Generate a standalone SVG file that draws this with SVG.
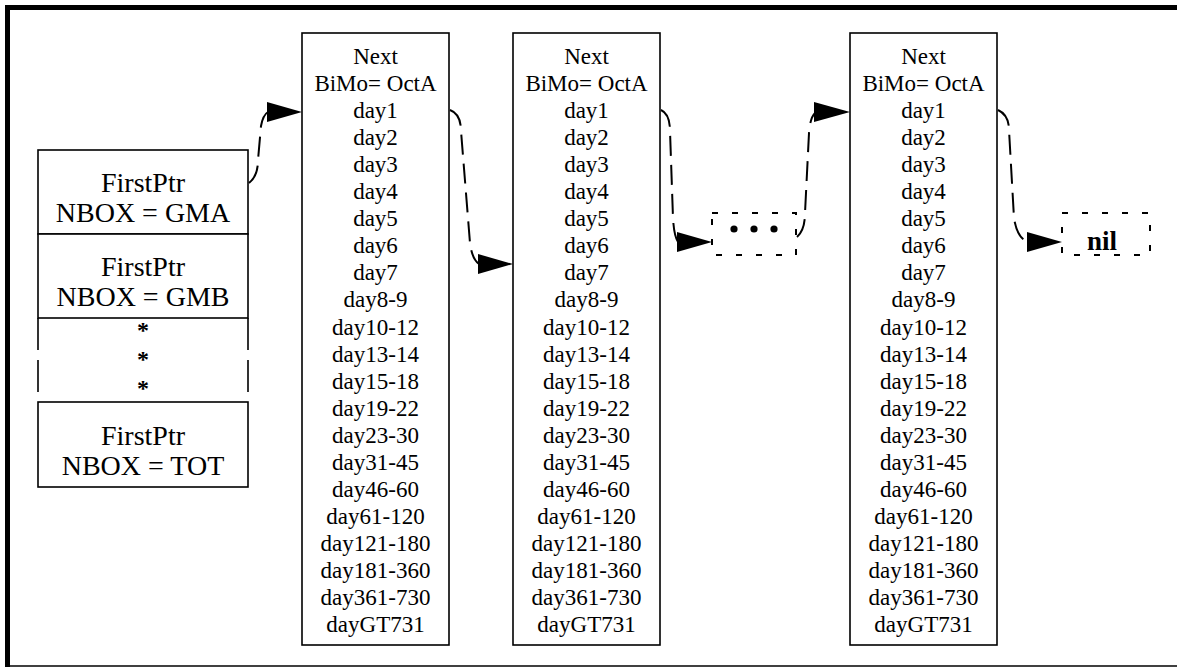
<svg xmlns="http://www.w3.org/2000/svg" width="1177" height="668" viewBox="0 0 1177 668">
<style>
.box{fill:#fff;stroke:#000;stroke-width:1.6}
.t{font-family:"Liberation Serif","Times New Roman",serif;font-size:23px;fill:#000;text-anchor:middle}
.tl{font-family:"Liberation Serif","Times New Roman",serif;font-size:28px;fill:#000;text-anchor:middle}
.ast{font-family:"Liberation Serif","Times New Roman",serif;font-size:24px;font-weight:bold;fill:#000;text-anchor:middle}
.conn{fill:none;stroke:#000;stroke-width:2;stroke-dasharray:20 9}
.head{fill:#000;stroke:none}
.dot{fill:none;stroke:#000;stroke-width:2;stroke-dasharray:6 14}
.side{stroke:#000;stroke-width:1.6;stroke-dasharray:32 10}
</style>
<defs>
<g id="fields">
<text x="0" y="64">Next</text>
<text x="0" y="91">BiMo= OctA</text>
<text x="0" y="118">day1</text>
<text x="0" y="145">day2</text>
<text x="0" y="172">day3</text>
<text x="0" y="199">day4</text>
<text x="0" y="226">day5</text>
<text x="0" y="253">day6</text>
<text x="0" y="280">day7</text>
<text x="0" y="307">day8-9</text>
<text x="0" y="335">day10-12</text>
<text x="0" y="362">day13-14</text>
<text x="0" y="389">day15-18</text>
<text x="0" y="416">day19-22</text>
<text x="0" y="443">day23-30</text>
<text x="0" y="470">day31-45</text>
<text x="0" y="497">day46-60</text>
<text x="0" y="524">day61-120</text>
<text x="0" y="551">day121-180</text>
<text x="0" y="578">day181-360</text>
<text x="0" y="605">day361-730</text>
<text x="0" y="632">dayGT731</text>
</g>
</defs>
<rect width="1177" height="668" fill="#fff"/>
<g id="frame">
<rect x="5" y="5" width="1172" height="5" fill="#000"/>
<rect x="5" y="5" width="5" height="662" fill="#000"/>
<line x1="5" y1="666" x2="1177" y2="666" stroke="#000" stroke-width="1.5"/>
</g>
<g id="nbox-gma">
<rect class="box" x="38" y="150" width="210" height="84"/>
<text class="tl" x="143" y="192">FirstPtr</text>
<text class="tl" x="143" y="222">NBOX = GMA</text>
</g>
<g id="nbox-gmb">
<rect class="box" x="38" y="234" width="210" height="84"/>
<text class="tl" x="143" y="276">FirstPtr</text>
<text class="tl" x="143" y="306">NBOX = GMB</text>
</g>
<g id="nbox-more">
<line class="side" x1="38" y1="318" x2="38" y2="402"/>
<line class="side" x1="248" y1="318" x2="248" y2="402"/>
<text class="ast" x="143" y="338">*</text>
<text class="ast" x="143" y="367">*</text>
<text class="ast" x="143" y="396">*</text>
</g>
<g id="nbox-tot">
<rect class="box" x="38" y="402" width="210" height="85"/>
<text class="tl" x="143" y="445">FirstPtr</text>
<text class="tl" x="143" y="475">NBOX = TOT</text>
</g>
<g id="node-a">
<rect class="box" x="302" y="33" width="147" height="612"/>
<g class="t" transform="translate(375.5,0)"><use href="#fields"/></g>
</g>
<g id="node-b">
<rect class="box" x="513" y="33" width="147" height="612"/>
<g class="t" transform="translate(586.5,0)"><use href="#fields"/></g>
</g>
<g id="node-c">
<rect class="box" x="850" y="33" width="147" height="612"/>
<g class="t" transform="translate(923.5,0)"><use href="#fields"/></g>
</g>
<g id="ellipsis">
<rect class="dot" x="712" y="213" width="84" height="42"/>
<circle cx="734" cy="229" r="3.6" fill="#000"/>
<circle cx="754" cy="229" r="3.6" fill="#000"/>
<circle cx="774" cy="229" r="3.6" fill="#000"/>
</g>
<g id="nil">
<rect class="dot" x="1062" y="213" width="88" height="42"/>
<text x="1102" y="250" font-family="Liberation Serif, serif" font-size="27" font-weight="bold" text-anchor="middle">nil</text>
</g>
<g id="connectors">
<path class="conn" d="M249,183 Q258,176 258,160 L261,126 Q263,115 268,112"/>
<polygon class="head" points="267,102 302,112 267,122"/>
<path class="conn" d="M450,110 Q461,114 461,131 L470,243 Q472,259 479,264"/>
<polygon class="head" points="478,254 513,264 478,274"/>
<path class="conn" d="M661,110 Q670,114 670,131 L673,218 Q674,236 678,242"/>
<polygon class="head" points="677,232 712,242 677,252"/>
<path class="conn" d="M797,237 Q805,230 805,213 L809,133 Q810,118 815,113"/>
<polygon class="head" points="814,102 850,112 814,122"/>
<path class="conn" d="M998,110 Q1009,115 1009,130 L1014,218 Q1017,238 1028,242"/>
<polygon class="head" points="1027,232 1062,242 1027,252"/>
</g>
</svg>
